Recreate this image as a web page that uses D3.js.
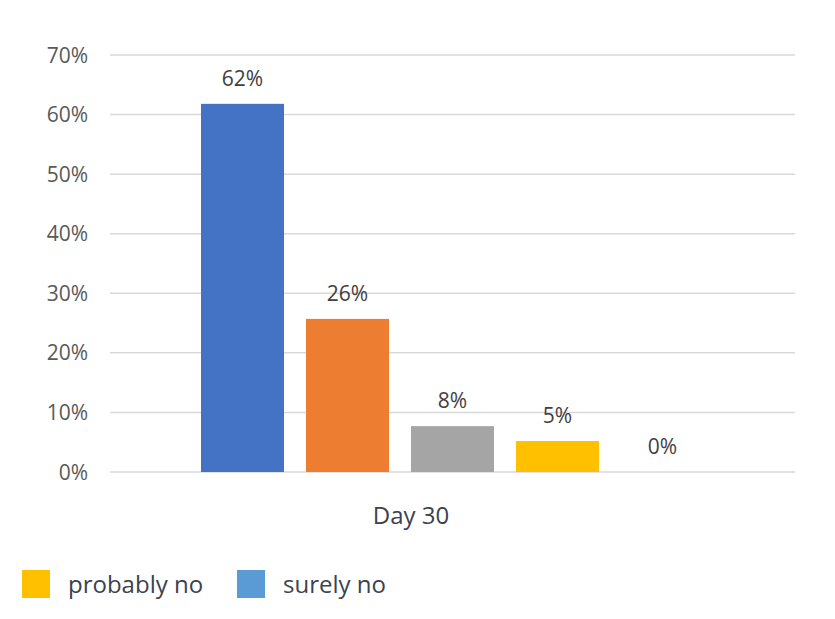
<!DOCTYPE html>
<html>
<head>
<meta charset="utf-8">
<script src="https://cdn.jsdelivr.net/npm/d3@7"></script>
<style>
  body { margin: 0; background: #fff; }
  text { font-family: "Open Sans", sans-serif; }
</style>
</head>
<body>
<svg id="chart" width="835" height="619"></svg>
<script>
// data
const categories = ["Day 30"];
const seriesNames = ["s1", "s2", "s3", "probably no", "surely no"];
const seriesValues = [0.618, 0.257, 0.077, 0.052, 0];
const seriesLabels = ["62%", "26%", "8%", "5%", "0%"];
const seriesColors = ["#4472C4", "#ED7D31", "#A5A5A5", "#FFC000", "#5B9BD5"];
const yTicks = [0, 0.1, 0.2, 0.3, 0.4, 0.5, 0.6, 0.7];
const legendItems = ["probably no", "surely no"];

const svg = d3.select("#chart");
const margin = {top: 55, right: 40, bottom: 147, left: 110};
const width = +svg.attr("width") - margin.left - margin.right;
const height = +svg.attr("height") - margin.top - margin.bottom;

const g = svg.append("g")
    .attr("transform", "translate(" + margin.left + "," + margin.top + ")");

const x0 = d3.scaleBand().domain(categories).range([0, width]).paddingInner(0).paddingOuter(0.1524);
const x1 = d3.scaleBand().domain(seriesNames).range([0, x0.bandwidth()]).paddingInner(0.2095).paddingOuter(0.1048);
const y = d3.scaleLinear().domain([0, 0.7]).range([height, 0]);

// gridlines
g.selectAll(".grid")
  .data(yTicks)
  .enter().append("line")
    .attr("x1", 0)
    .attr("x2", width)
    .attr("y1", d => y(d))
    .attr("y2", d => y(d))
    .attr("stroke", "#D9D9D9")
    .attr("stroke-width", 1.5);

// y tick labels
g.selectAll(".ytick")
  .data(yTicks)
  .enter().append("text")
    .attr("x", -22)
    .attr("y", d => y(d))
    .attr("dy", "0.36em")
    .attr("text-anchor", "end")
    .attr("fill", "#595959")
    .attr("font-size", 21)
    .text(d => d3.format(".0%")(d));

const data = seriesNames.map((n, i) => ({name: n, value: seriesValues[i], label: seriesLabels[i], color: seriesColors[i]}));

const grp = g.selectAll(".cat")
  .data(categories)
  .enter().append("g")
    .attr("transform", d => "translate(" + x0(d) + ",0)");

grp.selectAll("rect")
  .data(data)
  .enter().append("rect")
    .attr("x", d => x1(d.name))
    .attr("y", d => y(d.value))
    .attr("width", x1.bandwidth())
    .attr("height", d => height - y(d.value))
    .attr("fill", d => d.color);

grp.selectAll(".lbl")
  .data(data)
  .enter().append("text")
    .attr("x", d => x1(d.name) + x1.bandwidth() / 2)
    .attr("y", d => y(d.value) - 18)
    .attr("text-anchor", "middle")
    .attr("fill", "#404040")
    .attr("font-size", 21)
    .text(d => d.label);

// category label
grp.append("text")
    .attr("x", x0.bandwidth() * 0.421)
    .attr("y", height + 52)
    .attr("text-anchor", "middle")
    .attr("fill", "#3A4350")
    .attr("font-size", 24)
    .text(d => d);

// legend
const legend = svg.append("g").attr("transform", "translate(22,570)");
const li = legend.selectAll(".li")
  .data(legendItems)
  .enter().append("g")
    .attr("transform", (d, i) => "translate(" + (i * 215) + ",0)");

li.append("rect")
    .attr("width", 28)
    .attr("height", 28)
    .attr("fill", d => seriesColors[seriesNames.indexOf(d)]);

li.append("text")
    .attr("x", 46)
    .attr("y", 14)
    .attr("dy", "0.36em")
    .attr("fill", "#3A4350")
    .attr("font-size", 24)
    .text(d => d);
</script>
</body>
</html>
